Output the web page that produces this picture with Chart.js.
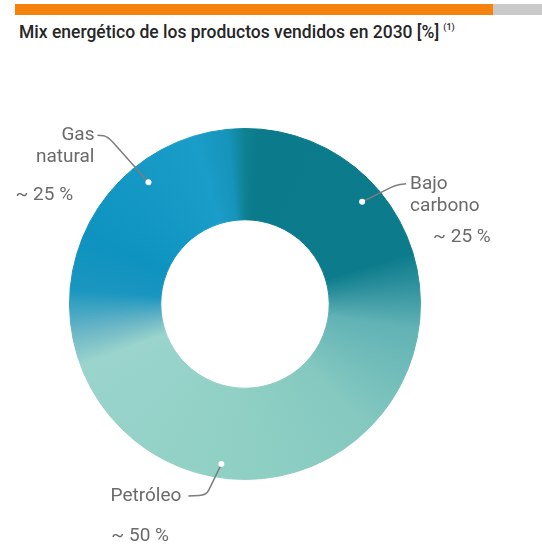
<!DOCTYPE html>
<html>
<head>
<meta charset="utf-8">
<script src="https://cdn.jsdelivr.net/npm/chart.js@4"></script>
<style>
  html, body { margin: 0; padding: 0; background: #fff; }
  body { width: 542px; height: 547px; position: relative; overflow: hidden; font-family: Roboto, "Noto Sans", sans-serif; }
  #bar { position: absolute; left: 15px; top: 4px; width: 478px; height: 11px; background: #f5820c; }
  #barEnd { position: absolute; left: 493px; top: 4px; width: 49px; height: 11px; background: #c9c9c9; }
  #title { position: absolute; left: 19px; top: 22px; font-size: 17.5px; font-weight: 500; color: #262626; white-space: nowrap; }
  #title sup { font-size: 9px; vertical-align: 8px; margin-left: 4px; }
  #wrap { position: absolute; left: 0; top: 0; width: 542px; height: 547px; }
</style>
</head>
<body>
<div id="bar"></div><div id="barEnd"></div>
<div id="title">Mix energético de los productos vendidos en 2030 [%]<sup>(1)</sup></div>
<div id="wrap"><canvas id="donut"></canvas></div>
<script>
// data
const categories = ['Bajo carbono', 'Petróleo', 'Gas natural'];
const shares = [25, 50, 25];
const shareLabels = ['~ 25 %', '~ 50 %', '~ 25 %'];

// label layout: where the dot sits inside its slice, leader line, text
const labelLayout = [
  { f: 0.61, rf: 0.78, elbow: [34, -17], end: [44, -18], lines: ['Bajo', 'carbono'], align: 'left', tx: 4, pct: [27, 53] },
  { f: 0.58, rf: 0.85, elbow: [-15, 31], end: [-33, 32], lines: ['Petróleo'], align: 'right', tx: -7, pct: [-77, 40] },
  { f: 0.64, rf: 0.78, elbow: [-41, -46], end: [-51, -47], lines: ['Gas', 'natural'], align: 'right', tx: -3, pct: [-82, 60] }
];

const ROTATION = -6;

function ringGradient(context) {
  const chart = context.chart;
  const area = chart.chartArea;
  if (!area) return '#0b7a8a';
  const cx = (area.left + area.right) / 2;
  const cy = (area.top + area.bottom) / 2;
  const g = chart.ctx.createConicGradient((ROTATION - 90) * Math.PI / 180, cx, cy);
  const total = shares.reduce((a, b) => a + b, 0);
  const b1 = shares[0] / total;
  const b2 = (shares[0] + shares[1]) / total;
  g.addColorStop(0, '#1694bb');
  g.addColorStop(0.017, '#0e8191');
  g.addColorStop(0.03, '#0b7a8a');
  g.addColorStop(b1 - 0.03, '#0c7c8c');
  g.addColorStop(b1 - 0.005, '#2a8e9b');
  g.addColorStop(b1 + 0.04, '#62b3b5');
  g.addColorStop(b1 + 0.14, '#84c8c0');
  g.addColorStop((b1 + b2) / 2, '#8ecfc3');
  g.addColorStop(b2 - 0.04, '#9ad4cc');
  g.addColorStop(b2 - 0.01, '#6cb6c6');
  g.addColorStop(b2 + 0.03, '#1a96c0');
  g.addColorStop(b2 + 0.08, '#0e92c0');
  g.addColorStop(0.97, '#1a9dc8');
  g.addColorStop(1, '#1694bb');
  return g;
}

const labelPlugin = {
  id: 'leaderLabels',
  afterDatasetsDraw(chart) {
    const ctx = chart.ctx;
    const arcs = chart.getDatasetMeta(0).data;
    ctx.save();
    arcs.forEach((arc, i) => {
      const L = labelLayout[i];
      const p = arc.getProps(['x', 'y', 'startAngle', 'endAngle', 'innerRadius', 'outerRadius'], true);
      const a = p.startAngle + L.f * (p.endAngle - p.startAngle);
      const r = p.innerRadius + L.rf * (p.outerRadius - p.innerRadius);
      const dx = p.x + Math.cos(a) * r;
      const dy = p.y + Math.sin(a) * r;
      const ex = dx + L.elbow[0], ey = dy + L.elbow[1];
      const nx = dx + L.end[0], ny = dy + L.end[1];

      ctx.strokeStyle = '#7d7d7d';
      ctx.lineWidth = 1.5;
      ctx.beginPath();
      ctx.moveTo(dx, dy);
      const kx = ex - (ex - dx) * 0.15, ky = ey - (ey - dy) * 0.15;
      ctx.lineTo(kx, ky);
      ctx.quadraticCurveTo(ex, ey, ex + (nx - ex) * 0.4, ey + (ny - ey) * 0.4);
      ctx.lineTo(nx, ny);
      ctx.stroke();

      ctx.fillStyle = '#fff';
      ctx.beginPath();
      ctx.arc(dx, dy, 3, 0, Math.PI * 2);
      ctx.fill();

      ctx.fillStyle = '#6a6a6a';
      ctx.font = '19px Roboto, "Noto Sans", sans-serif';
      ctx.textBaseline = 'middle';
      ctx.textAlign = L.align;
      L.lines.forEach((t, k) => ctx.fillText(t, nx + L.tx, ny + k * 22));
      ctx.textAlign = 'left';
      ctx.fillText(shareLabels[i], nx + L.pct[0], ny + L.pct[1]);
    });
    ctx.restore();
  }
};

new Chart(document.getElementById('donut'), {
  type: 'doughnut',
  data: {
    labels: categories,
    datasets: [{
      data: shares,
      backgroundColor: ringGradient,
      borderColor: ringGradient,
      borderWidth: 1,
      hoverOffset: 0
    }]
  },
  options: {
    responsive: true,
    maintainAspectRatio: false,
    animation: false,
    rotation: ROTATION,
    cutout: '48%',
    layout: { padding: { left: 69, right: 121, top: 128, bottom: 67 } },
    plugins: {
      legend: { display: false },
      tooltip: { enabled: false }
    }
  },
  plugins: [labelPlugin]
});
</script>
</body>
</html>
